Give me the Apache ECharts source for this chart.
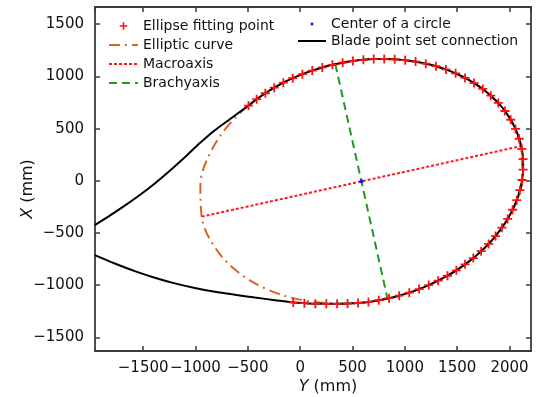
<!DOCTYPE html>
<html lang="en">
<head>
  <meta charset="UTF-8">
  <title>Blade section ellipse fitting</title>
  <style>
    html, body {
      margin: 0;
      padding: 0;
      background: #fff;
    }
    #main {
      width: 541px;
      height: 397px;
    }
  </style>
  <script src="https://cdn.jsdelivr.net/npm/echarts@6/dist/echarts.min.js"></script>
</head>
<body>
<div id="main"></div>

<script>
  // Ellipse fitting points (on the blade outline), mm
  var fitX = [-494, -416, -333, -248, -161, -71, 21, 115, 211, 308,
    406, 504, 604, 703, 803, 903, 1003, 1102, 1200, 1297,
    1392, 1485, 1575, 1661, 1744, 1821, 1892, 1956, 2011, 2057,
    2092, 2117, 2129, 2130, 2120, 2099, 2069, 2029, 1982, 1927,
    1866, 1800, 1729, 1654, 1575, 1492, 1407, 1318, 1228, 1136,
    1042, 946, 849, 751, 652, 553, 453, 353, 250, 145,
    40, -66];
  var fitY = [721, 782, 839, 892, 940, 983, 1022, 1056, 1086, 1111,
    1132, 1148, 1159, 1166, 1168, 1164, 1156, 1142, 1122, 1098,
    1067, 1030, 986, 936, 880, 816, 746, 669, 585, 497,
    403, 306, 207, 107, 8, -90, -185, -277, -365, -449,
    -529, -604, -674, -740, -800, -857, -909, -956, -999, -1037,
    -1071, -1100, -1124, -1144, -1160, -1170, -1176, -1178, -1178, -1177,
    -1172, -1165];

  // Fitted ellipse outline, read around the curve
  var ellipseX = [2111, 1995, 1782, 1488, 1132, 740, 336, -50, -394, -670,
    -861, -953, -941, -825, -612, -318, 38, 431, 834, 1220,
    1564, 1840, 2031, 2123, 2111];
  var ellipseY = [333, 612, 849, 1028, 1136, 1167, 1118, 992, 798, 550,
    264, -41, -343, -622, -859, -1038, -1146, -1177, -1128, -1002,
    -808, -560, -274, 31, 333];

  // Blade outline tails outside the fitted part
  var bladeTopX = [-1962, -1819, -1676, -1532, -1389, -1245, -1102, -958, -815, -672];
  var bladeTopY = [-425, -334, -238, -136, -25, 97, 226, 362, 485, 590];
  var bladeBottomX = [-241, -432, -624, -815, -1006, -1197, -1389, -1580, -1771, -1962];
  var bladeBottomY = [-1143, -1118, -1091, -1062, -1026, -982, -928, -865, -792, -712];

  // Major / minor axis end points and the centre
  var macroX = [-941, 2111];
  var macroY = [-343, 333];
  var brachyX = [336, 834];
  var brachyY = [1118, -1128];
  var centerX = [585];
  var centerY = [-5];

  function pairs(xs, ys) {
    var out = [];
    for (var i = 0; i < xs.length; i++) {
      out.push([xs[i], ys[i]]);
    }
    return out;
  }

  var bladeData = pairs(bladeTopX, bladeTopY)
    .concat(pairs(fitX, fitY))
    .concat(pairs(bladeBottomX, bladeBottomY));

  var fontFamily = '"DejaVu Sans", Arial, sans-serif';
  var axisColor = '#3a3a3a';
  var plusPath = 'path://M4,0H6V4H10V6H6V10H4V6H0V4H4Z';
  var plusIcon = 'path://M0,0L0,0M14,14L14,14M6.2,3.2H7.8V6.2H10.8V7.8H7.8V10.8H6.2V7.8H3.2V6.2H6.2Z';
  var dotIcon = 'path://M0,0L0,0M14,14L14,14M5.7,5.7H8.3V8.3H5.7Z';

  var ellipseDash = [11, 5, 2, 5];
  var macroDash = [3, 2];
  var brachyDash = [8, 5];

  function minusLabel(v) {
    return String(v).replace('-', '\u2212');
  }

  function makeAxis(pos, min, max, split, showLabel, name, nameGap, namePad, margin) {
    return {
      type: 'value',
      position: pos,
      min: min,
      max: max,
      splitNumber: split,
      name: name,
      nameLocation: 'middle',
      nameGap: nameGap,
      nameMoveOverlap: false,
      nameTextStyle: {
        fontFamily: fontFamily,
        fontSize: 16,
        color: '#111',
        padding: namePad,
        rich: {
          it: { fontFamily: fontFamily, fontSize: 16, fontStyle: 'italic', color: '#111' }
        }
      },
      axisLine: { show: true, onZero: false, lineStyle: { color: axisColor, width: 1.8 } },
      axisTick: { show: true, inside: true, length: 5, lineStyle: { color: axisColor, width: 1.5 } },
      axisLabel: {
        show: showLabel,
        showMinLabel: false,
        showMaxLabel: false,
        fontFamily: fontFamily,
        fontSize: 15,
        color: '#111',
        margin: margin,
        formatter: minusLabel
      },
      splitLine: { show: false }
    };
  }

  // legend entry for a line series: dashed stroke, no marker
  function lineItem(name, dash) {
    return {
      name: name,
      itemStyle: { opacity: 0 },
      lineStyle: { type: dash, width: 2 }
    };
  }

  var chart = echarts.init(document.getElementById('main'));

  var option = {
    animation: false,
    backgroundColor: '#fff',
    grid: { left: 95, right: 10, top: 7, bottom: 46, outerBoundsMode: 'none', containLabel: false },
    xAxis: [
      makeAxis('bottom', -1960, 2205, 8, true, '{it|Y} (mm)', 28, [0, 0, 0, 30], 10),
      makeAxis('top', -1960, 2205, 8, false, '', 0, 0, 8)
    ],
    yAxis: [
      makeAxis('left', -1630, 1665, 7, true, '{it|X} (mm)', 59, [0, 20, 0, 0], 11),
      makeAxis('right', -1630, 1665, 7, false, '', 0, 0, 8)
    ],
    legend: [
      {
        orient: 'vertical',
        left: 103,
        top: 14,
        itemWidth: 29,
        itemHeight: 14,
        itemGap: 5,
        textStyle: { fontFamily: fontFamily, fontSize: 14, color: '#111' },
        data: [
          { name: 'Ellipse fitting point', icon: plusIcon },
          lineItem('Elliptic curve', ellipseDash),
          lineItem('Macroaxis', macroDash),
          lineItem('Brachyaxis', brachyDash)
        ]
      },
      {
        orient: 'vertical',
        left: 292,
        top: 12,
        itemWidth: 28,
        itemHeight: 14,
        itemGap: 3,
        textStyle: { fontFamily: fontFamily, fontSize: 14, color: '#111' },
        data: [
          { name: 'Center of a circle', icon: dotIcon },
          lineItem('Blade point set connection', 'solid')
        ]
      }
    ],
    series: [
      {
        name: 'Elliptic curve',
        type: 'line',
        data: pairs(ellipseX, ellipseY),
        smooth: 0.35,
        symbol: 'none',
        z: 2,
        lineStyle: { color: '#d9622b', width: 2, type: ellipseDash },
        itemStyle: { color: '#d9622b' }
      },
      {
        name: 'Macroaxis',
        type: 'line',
        data: pairs(macroX, macroY),
        symbol: 'none',
        z: 3,
        lineStyle: { color: '#ff1a1a', width: 2, type: macroDash },
        itemStyle: { color: '#ff1a1a' }
      },
      {
        name: 'Brachyaxis',
        type: 'line',
        data: pairs(brachyX, brachyY),
        symbol: 'none',
        z: 3,
        lineStyle: { color: '#1e9a1e', width: 2, type: brachyDash },
        itemStyle: { color: '#1e9a1e' }
      },
      {
        name: 'Blade point set connection',
        type: 'line',
        data: bladeData,
        smooth: 0.3,
        symbol: 'none',
        z: 4,
        lineStyle: { color: '#000', width: 2 },
        itemStyle: { color: '#000' }
      },
      {
        name: 'Ellipse fitting point',
        type: 'scatter',
        data: pairs(fitX, fitY),
        symbol: plusPath,
        symbolSize: 9,
        z: 5,
        itemStyle: { color: '#ff1010', opacity: 1 }
      },
      {
        name: 'Center of a circle',
        type: 'scatter',
        data: pairs(centerX, centerY),
        symbol: 'circle',
        symbolSize: 4,
        z: 6,
        itemStyle: { color: '#1010ff', opacity: 1 }
      }
    ]
  };

  chart.setOption(option);
</script>
</body>
</html>
